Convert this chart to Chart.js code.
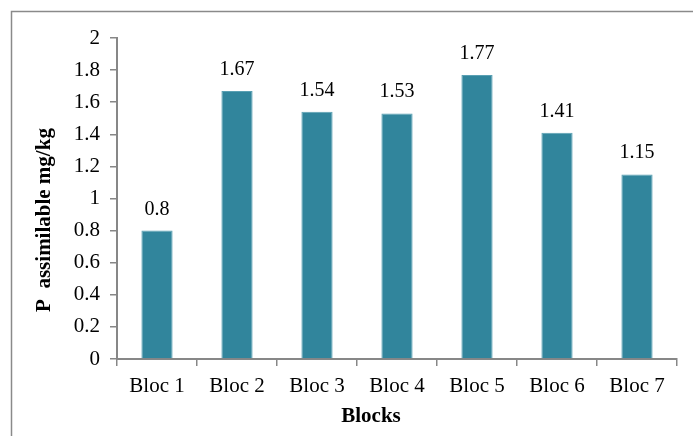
<!DOCTYPE html>
<html>
<head>
<meta charset="utf-8">
<script src="https://cdn.jsdelivr.net/npm/chart.js@4/dist/chart.umd.min.js"></script>
<style>
    html, body { margin: 0; padding: 0; background: #fff; }
    #zona { width: 693px; height: 436px; }
</style>
</head>
<body>
<div id="zona"><canvas id="grafico" width="693" height="436"></canvas></div>
<script>
// datos
const bloques = ["Bloc 1", "Bloc 2", "Bloc 3", "Bloc 4", "Bloc 5", "Bloc 6", "Bloc 7"];
const fosforo = [0.8, 1.67, 1.54, 1.53, 1.77, 1.41, 1.15];
const etiquetasY = [0, 0.2, 0.4, 0.6, 0.8, 1, 1.2, 1.4, 1.6, 1.8, 2];
const tituloX = "Blocks";
const tituloY = "P  assimilable mg/kg";

const fuente = "'Liberation Serif', 'Times New Roman', serif";
const gris = "#878787";

// marco exterior (solo arriba e izquierda se ven)
const marco = {
    id: "marco",
    afterDraw(chart) {
        const ctx = chart.ctx;
        ctx.save();
        ctx.strokeStyle = "#8a8a8a";
        ctx.lineWidth = 1.5;
        ctx.strokeRect(11.5, 11.5, 700, 450);
        ctx.restore();
    }
};

// titulos de ejes, no centrados sobre el area
const titulos = {
    id: "titulos",
    afterDraw(chart) {
        const ctx = chart.ctx;
        ctx.save();
        ctx.font = "bold 21px " + fuente;
        ctx.fillStyle = "#000";
        ctx.textAlign = "center";
        ctx.textBaseline = "middle";
        ctx.fillText(tituloX, 371, 417);
        ctx.translate(45, 220);
        ctx.rotate(-Math.PI / 2);
        ctx.fillText(tituloY, 0, 0);
        ctx.restore();
    }
};

// valores encima de cada barra
const valores = {
    id: "valores",
    afterDatasetsDraw(chart) {
        const ctx = chart.ctx;
        const meta = chart.getDatasetMeta(0);
        ctx.save();
        ctx.font = "20px " + fuente;
        ctx.fillStyle = "#000";
        ctx.textAlign = "center";
        ctx.textBaseline = "alphabetic";
        meta.data.forEach((barra, i) => {
            ctx.fillText(String(fosforo[i]), barra.x, barra.y - 16);
        });
        ctx.restore();
    }
};

new Chart(document.getElementById("grafico"), {
    type: "bar",
    data: {
        labels: bloques,
        datasets: [{
            data: fosforo,
            backgroundColor: "#31859c",
            borderColor: "#5aa0b3",
            borderWidth: { left: 1, right: 1, top: 1, bottom: 0 },
            categoryPercentage: 1,
            barPercentage: 0.39
        }]
    },
    options: {
        responsive: false,
        animation: false,
        devicePixelRatio: 1,
        layout: { padding: { left: 0, top: 38, right: 16, bottom: 0 } },
        plugins: {
            legend: { display: false },
            tooltip: { enabled: false }
        },
        scales: {
            x: {
                offset: true,
                grid: {
                    offset: true,
                    drawOnChartArea: false,
                    drawTicks: true,
                    tickLength: 7,
                    color: gris,
                    lineWidth: 1.5
                },
                border: { display: true, color: gris, width: 2 },
                ticks: {
                    color: "#000",
                    font: { family: fuente, size: 21 },
                    padding: 8,
                    maxRotation: 0
                },
                afterFit(scale) { scale.height = 77; }
            },
            y: {
                min: 0,
                max: 2,
                afterBuildTicks(scale) {
                    scale.ticks = etiquetasY.map(v => ({ value: v }));
                },
                grid: {
                    drawOnChartArea: false,
                    drawTicks: true,
                    tickLength: 7,
                    color: gris,
                    lineWidth: 1.5
                },
                border: { display: true, color: gris, width: 2 },
                ticks: {
                    color: "#000",
                    font: { family: fuente, size: 21 },
                    padding: 10,
                    callback: v => String(v)
                },
                afterFit(scale) { scale.width = 117; }
            }
        }
    },
    plugins: [marco, valores, titulos]
});
</script>
</body>
</html>
